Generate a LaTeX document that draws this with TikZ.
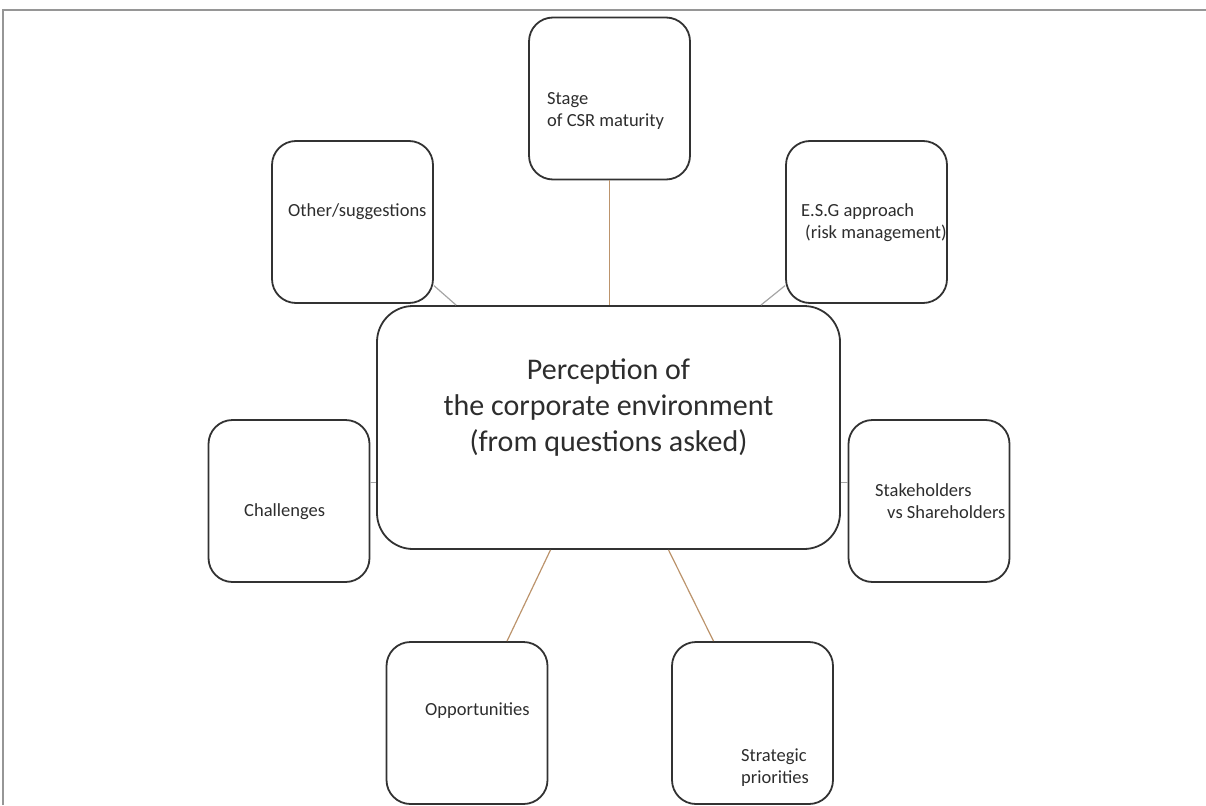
\documentclass[tikz,border=0pt]{standalone}
\usepackage{fontspec}
\setmainfont{Carlito}
\usepackage{xcolor}
\usetikzlibrary{calc}
\definecolor{boxgray}{RGB}{50,50,50}
\definecolor{txtgray}{RGB}{45,45,45}
\definecolor{framegray}{RGB}{150,150,150}
\definecolor{linktan}{RGB}{188,148,108}
\definecolor{tickgray}{RGB}{165,165,165}

\begin{document}
\begin{tikzpicture}[
    x=1pt, y=-1pt,
    every node/.style={font=\fontsize{18.5}{22}\selectfont, text=txtgray},
    box/.style={draw=boxgray, line width=1.8pt, rounded corners=24pt,
                minimum width=161pt, minimum height=162pt, inner sep=0pt},
    hub/.style={draw=boxgray, line width=1.8pt, rounded corners=36pt,
                minimum width=463pt, minimum height=243pt, inner sep=0pt},
    lbl/.style={anchor=west, align=left, inner sep=0pt},
    link/.style={draw=linktan, line width=1.2pt},
    tick/.style={draw=tickgray, line width=1.2pt},
]
  \useasboundingbox (0,0) rectangle (1206,805);
  % Page frame
  \draw[framegray, line width=1.5pt] (3,805) -- (3,10) -- (1206,10);
  % Centre
  \node[hub] (hub) at (608.5,427.5) {};
  \node[font=\fontsize{30}{36}\selectfont, align=center, inner sep=0pt] (hubtxt)
    at (608.5,408) {Perception of\\the corporate environment\\(from questions asked)};
  % Surrounding boxes
  \node[box] (stage) at (609.5,98.5) {};
  \node[box] (other) at (352.5,222)  {};
  \node[box] (esg)   at (866.5,222)  {};
  \node[box] (chal)  at (289,501)    {};
  \node[box] (stake) at (929,501)    {};
  \node[box] (opp)   at (467,723)    {};
  \node[box] (strat) at (752.5,723)  {};
  % Box texts
  \node[lbl] (stagetxt) at (547,111) {Stage\\of CSR maturity};
  \node[lbl] (othertxt) at (288,212) {Other/suggestions};
  \node[lbl] (esgtxt)   at (801,223) {E.S.G approach\\\hspace*{4pt}(risk management)};
  \node[lbl] (chaltxt)  at (244,512) {Challenges};
  \node[lbl] (staketxt) at (875,501) {Stakeholders\\\hspace*{12pt}vs Shareholders};
  \node[lbl] (opptxt)   at (425,711) {Opportunities};
  \node[lbl] (strattxt) at (741,768) {Strategic\\priorities};
  % Connectors
  \draw[link] (stage.south) -- (stage.south |- hub.north);
  \draw[tick] (other.-38) -- ($(hub.north west)+(80,0)$);
  \draw[tick] (esg.218) -- ($(hub.north east)+(-80,0)$);
  \draw[tick] (chal.13) -- (chal.13 -| hub.west);
  \draw[tick] (stake.167) -- (stake.167 -| hub.east);
  \draw[link] ($(hub.south)+(-58,0)$) -- ($(opp.north)+(40,0)$);
  \draw[link] ($(hub.south)+(60,0)$) -- ($(strat.north)+(-39,0)$);
\end{tikzpicture}
\end{document}
